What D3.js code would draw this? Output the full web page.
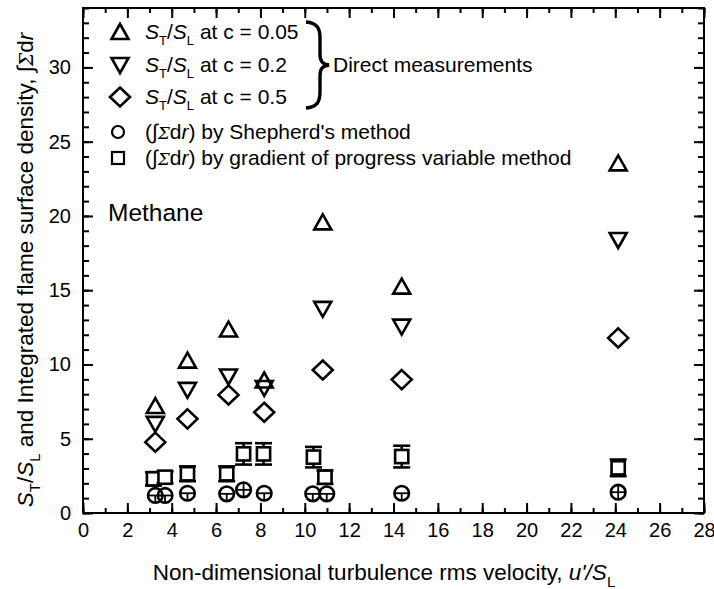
<!DOCTYPE html>
<html><head><meta charset="utf-8">
<script src="https://cdn.jsdelivr.net/npm/d3@7"></script>
<style>
body{margin:0;background:#fff;}
text{font-family:"Liberation Sans",Arial,sans-serif;fill:#000;}
</style></head>
<body>
<svg id="c" width="714" height="589"></svg>
<script>
// ---- data ----
const directX = [3.26, 4.71, 6.56, 8.17, 10.81, 14.37, 24.13];
const stC005 = [7.2, 10.26, 12.35, 8.92, 19.57, 15.24, 23.54];
const stC02  = [6.0, 8.29, 9.19, 8.42, 13.74, 12.55, 18.38];
const stC05  = [4.77, 6.34, 7.95, 6.78, 9.63, 8.98, 11.79];

const shepX  = [3.26, 3.7, 4.71, 6.48, 7.24, 8.17, 10.36, 10.99, 14.37, 24.13];
const shepY  = [1.18, 1.18, 1.33, 1.29, 1.56, 1.33, 1.29, 1.29, 1.33, 1.40];
const shepErrHi = [0, 0, 0, 0, 0.49, 0, 0, 0, 0, 0.49];
const shepErrLo = [0.49, 0.49, 0.49, 0.49, 0.49, 0.49, 0.49, 0.49, 0.49, 0.49];

const gradX  = [3.18, 3.7, 4.71, 6.48, 7.24, 8.14, 10.39, 10.91, 14.37, 24.13];
const gradY  = [2.3, 2.41, 2.64, 2.64, 3.98, 3.98, 3.76, 2.41, 3.8, 3.04];
const gradErr= [0.45, 0.4, 0.5, 0.5, 0.72, 0.72, 0.69, 0.45, 0.73, 0.56];

const xTickVals = d3.range(0, 29, 2);
const yTickVals = [0, 5, 10, 15, 20, 25, 30];

// ---- layout ----
const svg = d3.select("#c");
const L = 83, R = 704, T = 8, B = 513;
const x = d3.scaleLinear().domain([0, 28]).range([L, R]);
const y = d3.scaleLinear().domain([0, 34]).range([B, T]);

const tickStyle = g => { g.select(".domain").remove(); g.selectAll("line").attr("stroke","#000").attr("stroke-width",2); };

// minor ticks
const xMinor = d3.range(0, 29, 1), yMinor = d3.range(0, 35, 1);
svg.append("g").attr("transform",`translate(0,${B})`).call(d3.axisBottom(x).tickValues(xMinor).tickSize(-5).tickFormat("")).call(tickStyle);
svg.append("g").attr("transform",`translate(0,${T})`).call(d3.axisTop(x).tickValues(xMinor).tickSize(-5).tickFormat("")).call(tickStyle);
svg.append("g").attr("transform",`translate(${L},0)`).call(d3.axisLeft(y).tickValues(yMinor).tickSize(-6).tickFormat("")).call(tickStyle);
svg.append("g").attr("transform",`translate(${R},0)`).call(d3.axisRight(y).tickValues(yMinor).tickSize(-6).tickFormat("")).call(tickStyle);
// major ticks
const fs = "20px";
svg.append("g").attr("transform",`translate(0,${B})`).call(d3.axisBottom(x).tickValues(xTickVals).tickSize(-10).tickPadding(10).tickFormat(d3.format("d"))).call(tickStyle)
  .selectAll("text").style("font-size",fs).attr("font-family",null);
svg.append("g").attr("transform",`translate(0,${T})`).call(d3.axisTop(x).tickValues(xTickVals).tickSize(-10).tickFormat("")).call(tickStyle);
svg.append("g").attr("transform",`translate(${L},0)`).call(d3.axisLeft(y).tickValues(yTickVals).tickSize(-10).tickPadding(12).tickFormat(d3.format("d"))).call(tickStyle)
  .selectAll("text").style("font-size",fs).attr("font-family",null);
svg.append("g").attr("transform",`translate(${R},0)`).call(d3.axisRight(y).tickValues(yTickVals).tickSize(-10).tickFormat("")).call(tickStyle);

// frame
svg.append("rect").attr("x",L).attr("y",T).attr("width",R-L).attr("height",B-T)
  .attr("fill","none").attr("stroke","#000").attr("stroke-width",2);

// ---- symbols ----
const upTri = "M0,-8L8.5,7L-8.5,7Z";
const dnTri = "M0,8L8.5,-7L-8.5,-7Z";
const diam  = "M0,-9.5L10,0L0,9.5L-10,0Z";
const sw = 2.6;

function drawSym(g, path, xs, ys){
  g.selectAll(null).data(xs.map((d,i)=>[d,ys[i]])).join("path")
    .attr("d", path).attr("transform", d=>`translate(${x(d[0])},${y(d[1])})`)
    .attr("fill","none").attr("stroke","#000").attr("stroke-width",sw).attr("stroke-linejoin","miter");
}
const gd = svg.append("g");
drawSym(gd, upTri, directX, stC005);
drawSym(gd, dnTri, directX, stC02);
drawSym(gd, diam, directX, stC05);

// squares with error bars
const sq = 6.6, cap = 8.5;
gradX.forEach((xv,i)=>{
  const cx = x(xv), cy = y(gradY[i]), top = y(gradY[i]+gradErr[i]), bot = y(gradY[i]-gradErr[i]);
  const g = gd.append("g").attr("stroke","#000").attr("stroke-width",sw).attr("fill","none");
  g.append("line").attr("x1",cx).attr("x2",cx).attr("y1",top).attr("y2",bot);
  g.append("line").attr("x1",cx-cap).attr("x2",cx+cap).attr("y1",top).attr("y2",top);
  g.append("line").attr("x1",cx-cap).attr("x2",cx+cap).attr("y1",bot).attr("y2",bot);
  g.append("rect").attr("x",cx-sq).attr("y",cy-sq).attr("width",2*sq).attr("height",2*sq).attr("fill","#fff");
});
// circles with inner error bars
const cr = 7.3;
shepX.forEach((xv,i)=>{
  const cx = x(xv), cy = y(shepY[i]);
  const g = gd.append("g").attr("stroke","#000").attr("fill","none");
  g.append("circle").attr("cx",cx).attr("cy",cy).attr("r",cr).attr("stroke-width",sw);
  g.append("line").attr("x1",cx-cr).attr("x2",cx+cr).attr("y1",cy).attr("y2",cy).attr("stroke-width",1.8);
  g.append("line").attr("x1",cx).attr("x2",cx).attr("y1",y(shepY[i]+shepErrHi[i])).attr("y2",y(shepY[i]-shepErrLo[i])).attr("stroke-width",1.8);
});

// ---- legend ----
const lg = svg.append("g");
const legFs = "21px";
function stsl(t, rest){
  t.append("tspan").attr("font-style","italic").text("S");
  t.append("tspan").attr("dy",6).style("font-size","13px").text("T");
  t.append("tspan").attr("dy",-6).text("/");
  t.append("tspan").attr("font-style","italic").text("S");
  t.append("tspan").attr("dy",6).style("font-size","13px").text("L");
  t.append("tspan").attr("dy",-6).text(rest);
}
const legRows = [
  {sym:upTri, y:32, label:" at c = 0.05"},
  {sym:dnTri, y:65, label:" at c = 0.2"},
  {sym:diam,  y:97, label:" at c = 0.5"}
];
legRows.forEach(r=>{
  lg.append("path").attr("d",r.sym).attr("transform",`translate(120,${r.y})`)
    .attr("fill","none").attr("stroke","#000").attr("stroke-width",sw);
  const t = lg.append("text").attr("x",145).attr("y",r.y+7).style("font-size",legFs);
  stsl(t, r.label);
});
// brace
lg.append("path")
  .attr("d","M306,22 C317,23 320,28 320,38 L320,54 C320,61 322,64 329,65 C322,66 320,69 320,76 L320,92 C320,102 317,107 306,108")
  .attr("fill","none").attr("stroke","#000").attr("stroke-width",3.4);
lg.append("text").attr("x",333).attr("y",72).style("font-size",legFs).text("Direct measurements");

lg.append("circle").attr("cx",118).attr("cy",132).attr("r",6).attr("fill","none").attr("stroke","#000").attr("stroke-width",2.2);
lg.append("rect").attr("x",112).attr("y",152).attr("width",12).attr("height",12).attr("fill","none").attr("stroke","#000").attr("stroke-width",2.2);
function sigLabel(yy, rest){
  const t = lg.append("text").attr("x",145).attr("y",yy).style("font-size",legFs);
  t.append("tspan").text("(\u222B");
  t.append("tspan").attr("font-style","italic").attr("font-family","DejaVu Serif, serif").style("font-size","17px").text("\u03A3");
  t.append("tspan").text("d");
  t.append("tspan").attr("font-style","italic").text("r");
  t.append("tspan").text(")" + rest);
}
sigLabel(139, " by Shepherd's method");
sigLabel(165, " by gradient of progress variable method");

// Methane
svg.append("text").attr("x",108).attr("y",221).style("font-size","24.5px").text("Methane");

// ---- axis titles ----
const xt = svg.append("text").attr("x",384).attr("y",580).attr("text-anchor","middle").style("font-size","22.5px");
xt.append("tspan").text("Non-dimensional turbulence rms velocity, ");
xt.append("tspan").attr("font-style","italic").text("u'/S");
xt.append("tspan").attr("dy",7).style("font-size","15px").text("L");

const yt = svg.append("text").attr("transform","translate(33,270) rotate(-90)").attr("text-anchor","middle").style("font-size","22.5px");
yt.append("tspan").attr("font-style","italic").text("S");
yt.append("tspan").attr("dy",7).style("font-size","15px").text("T");
yt.append("tspan").attr("dy",-7).text("/");
yt.append("tspan").attr("font-style","italic").text("S");
yt.append("tspan").attr("dy",7).style("font-size","15px").text("L");
yt.append("tspan").attr("dy",-7).text(" and Integrated flame surface density, \u222B");
yt.append("tspan").attr("font-style","italic").attr("font-family","DejaVu Serif, serif").style("font-size","19px").text("\u03A3");
yt.append("tspan").text("d");
yt.append("tspan").attr("font-style","italic").text("r");
</script>
</body></html>
